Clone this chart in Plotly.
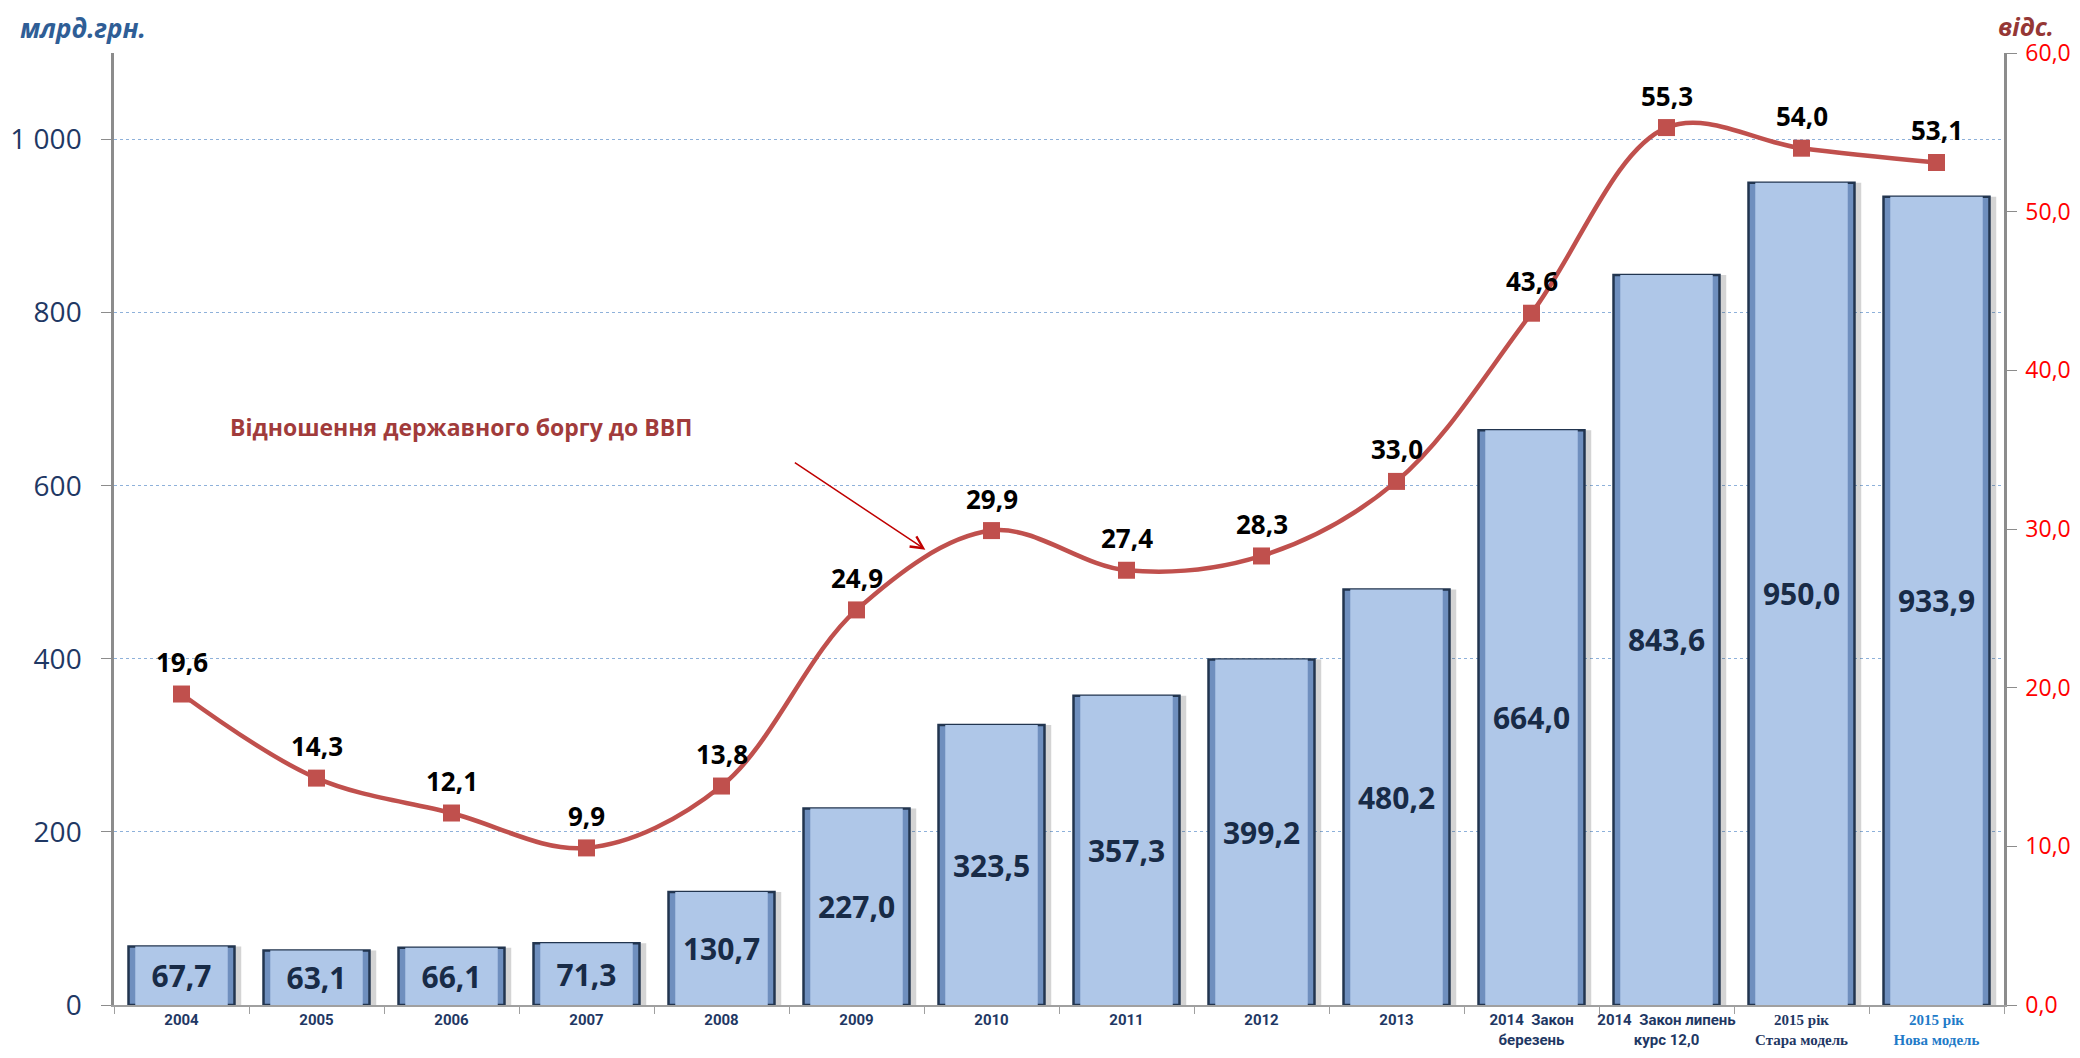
import plotly.graph_objects as go

categories = ["2004", "2005", "2006", "2007", "2008", "2009", "2010", "2011", "2012", "2013",
              "2014  Закон березень", "2014  Закон липень курс 12,0",
              "2015 рік Стара модель", "2015 рік Нова модель"]
tick_labels = ["2004", "2005", "2006", "2007", "2008", "2009", "2010", "2011", "2012", "2013",
               "2014  Закон<br>березень", "2014  Закон липень<br>курс 12,0",
               "<span style='font-family:Liberation Serif'>2015 рік<br>Стара модель</span>",
               "<span style='font-family:Liberation Serif;fill:#1F7BC8'>2015 рік<br>Нова модель</span>"]
debt = [67.7, 63.1, 66.1, 71.3, 130.7, 227.0, 323.5, 357.3, 399.2, 480.2, 664.0, 843.6, 950.0, 933.9]
ratio = [19.6, 14.3, 12.1, 9.9, 13.8, 24.9, 29.9, 27.4, 28.3, 33.0, 43.6, 55.3, 54.0, 53.1]

FONT = "Open Sans, Noto Sans, sans-serif"
NAVY = "#1F3864"
W = 0.785

fig = go.Figure()
# shadow, outer bevel and inner face of each bar
fig.add_trace(go.Bar(x=categories, y=debt, width=W, offset=-W / 2 + 0.05,
                     marker=dict(color="rgba(60,60,60,0.22)", line=dict(width=0)),
                     showlegend=False, hoverinfo="skip"))
fig.add_trace(go.Bar(x=categories, y=debt, width=W,
                     marker=dict(color="#6F8FBE", line=dict(color="#22354F", width=2.5)),
                     showlegend=False, hoverinfo="skip"))
fig.add_trace(go.Bar(
    x=categories, y=debt, width=W - 0.1,
    marker=dict(color="#AFC7E8", line=dict(width=0)),
    texttemplate="%{y:.1f}", textposition="inside", insidetextanchor="middle",
    textangle=0, textfont=dict(family=FONT, size=30, color="#182B47", weight="bold"),
    showlegend=False, hoverinfo="skip",
))
fig.add_trace(go.Scatter(
    x=categories, y=ratio, yaxis="y2", mode="lines+markers",
    line=dict(color="#C0504D", width=4.5, shape="spline", smoothing=1.0),
    marker=dict(symbol="square", size=17, color="#C0504D"),
    showlegend=False, cliponaxis=False,
))
# value labels above the markers (category index keeps numeric-looking names from being misread)
for i, r in enumerate(ratio):
    fig.add_annotation(x=i, y=r, xref="x", yref="y2", text=f"<b>{r:.1f}</b>".replace(".", ","),
                       showarrow=False, yshift=32,
                       font=dict(family=FONT, size=26, color="black"))

fig.update_layout(
    width=2064, height=1042,
    margin=dict(l=106, r=68, t=45, b=45),
    paper_bgcolor="white", plot_bgcolor="white",
    separators=", ",
    barmode="overlay",
    font=dict(family=FONT),
    xaxis=dict(type="category", range=[-0.5, 13.5], showline=True, linecolor="#A0A0A0",
               linewidth=2, ticks="outside", tickson="boundaries", ticklen=7,
               tickcolor="#A0A0A0",
               tickvals=categories, ticktext=tick_labels, tickangle=0, automargin=False,
               tickfont=dict(family="Liberation Sans Narrow, Roboto, sans-serif", size=15,
                             color=NAVY, weight="bold")),
    yaxis=dict(range=[0, 1100], dtick=200, tickformat=",.0f", showline=True,
               linecolor="#8C8C8C", linewidth=2.5, ticks="outside", ticklen=10,
               tickcolor="#8C8C8C", ticklabelstandoff=14, automargin=False,
               tickfont=dict(size=28, color=NAVY),
               showgrid=True, gridcolor="#8EB1DA", griddash="dot", gridwidth=1,
               zeroline=False),
    yaxis2=dict(range=[0, 60], dtick=10, tickformat=".1f", overlaying="y", side="right",
                showline=True, linecolor="#8C8C8C", linewidth=2.5, ticks="outside",
                ticklen=10, tickcolor="#8C8C8C", ticklabelstandoff=4, automargin=False,
                tickfont=dict(size=23, color="#FF0000"), showgrid=False, zeroline=False),
)

fig.add_annotation(text="<b><i>млрд.грн.</i></b>", xref="paper", yref="paper",
                   x=-0.051, y=1.026, xanchor="left", yanchor="middle", showarrow=False,
                   font=dict(size=26, color="#2F5E96"))
fig.add_annotation(text="<b><i>відс.</i></b>", xref="paper", yref="paper",
                   x=1.027, y=1.047, xanchor="right", yanchor="top", showarrow=False,
                   borderpad=0, font=dict(size=25, color="#953735"))
fig.add_annotation(text="<b>Відношення державного боргу до ВВП</b>", xref="paper", yref="paper",
                   x=0.1836, y=0.607, xanchor="center", yanchor="middle", showarrow=False,
                   font=dict(size=23, color="#A13B3B"))
fig.add_annotation(x=5.51, y=28.7, xref="x", yref="y2", ax=-132, ay=-88,
                   showarrow=True, arrowhead=5, arrowsize=1.6, arrowwidth=1.5,
                   arrowcolor="#C00000", text="")

fig.write_html("out.html")
